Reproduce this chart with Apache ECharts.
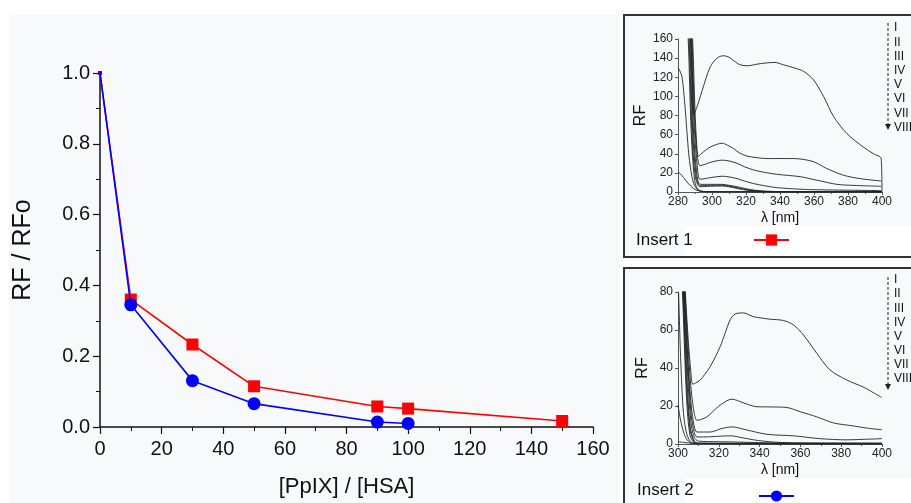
<!DOCTYPE html>
<html>
<head>
<meta charset="utf-8">
<script src="https://cdn.jsdelivr.net/npm/echarts@6/dist/echarts.min.js"></script>
<style>
  html, body { margin: 0; padding: 0; background: #ffffff; }
  #main { width: 911px; height: 503px; }
</style>
</head>
<body>
<div id="main"></div>
<script>
/************************************************************************************/
// data: main plot, RF / RFo against [PpIX] / [HSA]
/************************************************************************************/
var ratio = [0, 10, 30, 50, 90, 100, 150];
var insert1Values = [1.0, 0.36, 0.233, 0.115, 0.058, 0.052, 0.017];
var ratioBlue = [0, 10, 30, 50, 90, 100];
var insert2Values = [1.0, 0.345, 0.131, 0.066, 0.014, 0.010];

var xTicks = [0, 20, 40, 60, 80, 100, 120, 140, 160];
var yTicks = [0.0, 0.2, 0.4, 0.6, 0.8, 1.0];
var romans = ['I', 'II', 'III', 'IV', 'V', 'VI', 'VII', 'VIII'];

/************************************************************************************/
// data: insert 1 spectra, [lambda nm, RF]
/************************************************************************************/
var s1_I = [[286.5, 200], [287.6, 160], [288.5, 110], [289.2, 81], [291, 88], [294, 105], [299, 131], [303, 140], [306.8, 142.5], [310, 141], [313, 137], [316.6, 133], [321, 132], [326.5, 133.7], [332, 135], [337, 135.5], [342, 133], [348, 130], [354, 126], [359.8, 117], [365.6, 100], [371.5, 79], [379.4, 61], [389, 47], [395, 40], [399.5, 35], [400, 0]];
var s1_II = [[287.2, 200], [288.6, 160], [290, 85], [291, 50], [292, 37.5], [295, 42], [299, 47], [306, 51], [309, 49], [312.7, 45.5], [316, 41], [320.6, 37.5], [326, 36], [332, 35], [340, 35], [348, 35], [354, 34], [360, 31.5], [367.6, 24.5], [377.4, 17.5], [387, 14], [399.5, 11.5]];
var s1_III = [[286.8, 200], [288.2, 160], [289.8, 75], [291.5, 36], [293, 27.5], [296, 29], [299, 31], [306, 33.3], [310, 32.5], [314.7, 30], [319, 26.5], [324.5, 23], [331, 20.5], [338, 18.5], [345, 17.3], [352, 16], [361.8, 12.3], [373.5, 8], [385, 6.8], [399.5, 6]];
var s1_IV = [[286.3, 200], [287.8, 160], [289.5, 70], [291.5, 24], [293, 13.3], [299, 15], [306, 16.5], [310, 15.8], [314.7, 14], [319, 11.5], [324.5, 8.8], [331, 6.5], [338, 4.6], [348, 3.3], [358, 2.5], [375, 2], [399.5, 1.5]];
var s1_V = [[285.8, 200], [287.3, 160], [289, 68], [291, 20], [293, 8], [299, 8], [306, 8], [310, 7], [314.7, 5.5], [319, 3.8], [324.5, 2], [332, 0.9], [340, 0.4], [400, 0.3]];
var s1_VI = [[285.4, 200], [286.9, 160], [288.6, 66], [290.6, 18], [293, 6.5], [299, 7], [306, 7], [310, 6.2], [314.7, 4.5], [320, 2.5], [326, 1], [335, 0.3], [400, 0.2]];
var s1_VII = [[285, 200], [286.5, 160], [288.2, 64], [290.2, 16], [293, 5.5], [299, 6], [306, 6.3], [310, 5.5], [315, 3.6], [321, 1.8], [328, 0.6], [340, 0.2], [400, 0.2]];
var s1_VIII = [[284.5, 200], [286, 160], [287.8, 62], [289.8, 12], [292, 2], [296, 0.5], [310, 0.2], [400, 0.1]];
var s1_a = [[280, 130], [281, 127], [282.3, 121], [283.3, 106], [284.3, 86], [285.3, 62], [286.3, 40], [287.3, 26], [288.2, 16], [289.2, 9], [290.2, 5], [292, 2], [295, 0.3], [400, 0.1]];
var s1_b = [[280, 21], [281.4, 19], [283.3, 15], [285.3, 10.5], [287.3, 6.5], [289.2, 3.5], [291, 1.8], [293, 1], [297, 0.3], [400, 0.1]];

/************************************************************************************/
// data: insert 2 spectra, [lambda nm, RF]
/************************************************************************************/
var s2_I = [[302.8, 100], [303.6, 80], [305, 55], [306.3, 38], [307.2, 31.5], [308.5, 32], [310.9, 33.7], [313, 36.5], [315.8, 40.7], [320.7, 51.3], [323, 58], [325.6, 65.4], [328, 68.4], [332, 69], [337, 67], [341, 66.3], [345, 65.7], [351.7, 65], [356.6, 62.7], [361.5, 57.4], [368, 47.8], [374.5, 39], [382.7, 33.7], [390.8, 30], [395, 27.5], [399.8, 24.5]];
var s2_II = [[302.6, 100], [303.4, 80], [305, 50], [306.5, 28], [308, 16], [309.3, 12.5], [311.5, 13], [314.2, 14.3], [317, 17], [320.7, 20.5], [326.4, 23.6], [332, 21.7], [338.7, 19.6], [346, 19.5], [353.4, 19.2], [359.9, 17], [368, 14.3], [376.2, 11.1], [386, 9.5], [393, 8.3], [400, 7.5]];
var s2_III = [[302.4, 100], [303.2, 80], [305, 42], [306.5, 20], [308, 9], [309.3, 6.3], [315.8, 6.3], [321, 8], [326.4, 9], [333.6, 7.4], [343.6, 5.1], [356.6, 4.3], [369.7, 2.8], [382.7, 2.2], [392, 2.5], [400, 2.8]];
var s2_IV = [[302.2, 100], [303, 80], [305, 38], [306.5, 15], [308, 6], [309.3, 3.7], [316, 3.8], [322, 4.2], [326, 4.3], [331, 3.4], [337, 2.2], [342, 1.5], [348.5, 0.9], [360, 0.5], [400, 0.4]];
var s2_V = [[302, 100], [302.8, 80], [304.8, 35], [306.3, 12], [308, 3.5], [310, 1.5], [320, 1.2], [330, 1], [340, 0.7], [350, 0.5], [400, 0.4]];
var s2_VI = [[301.8, 100], [302.6, 80], [304.6, 30], [306, 9], [308, 1.5], [310, 0.5], [400, 0.3]];
var s2_VII = [[301.6, 100], [302.4, 80], [304.4, 27], [306, 7], [308, 1], [310, 0.3], [400, 0.2]];
var s2_VIII = [[301.4, 100], [302.2, 80], [304.2, 24], [305.8, 5], [308, 0.5], [310, 0.2], [400, 0.1]];
var s2_a = [[300.3, 79.5], [300.7, 65], [301.1, 51], [301.9, 30], [302.7, 16], [303.9, 7], [305.2, 2.8], [307.3, 0.3], [400, 0.1]];
var s2_b = [[300, 20.5], [301, 14], [302, 9], [303.2, 4.8], [304.4, 2.3], [306, 0.8], [308, 0.2], [400, 0.1]];
var s2_c = [[300, 1.2], [303, 0.8], [308, 0.3], [400, 0.1]];

var spectra1 = [s1_I, s1_II, s1_III, s1_IV, s1_V, s1_VI, s1_VII, s1_VIII, s1_a, s1_b];
var spectra2 = [s2_I, s2_II, s2_III, s2_IV, s2_V, s2_VI, s2_VII, s2_VIII, s2_a, s2_b, s2_c];

/************************************************************************************/
// helpers
/************************************************************************************/
var FONT = 'Liberation Sans, Arial, sans-serif';
var pair = function (xs, ys) {
    var out = [];
    for (var i = 0; i < ys.length; i++) out.push([xs[i], ys[i]]);
    return out;
};

var insetX = function (idx, min, max) {
    return {
        type: 'value', gridIndex: idx, min: min, max: max, interval: 20,
        name: 'λ [nm]', nameLocation: 'middle', nameGap: 19,
        nameTextStyle: { fontFamily: FONT, fontSize: 14, color: '#111' },
        axisLine: { lineStyle: { color: '#555', width: 1 } },
        axisTick: { length: 3, lineStyle: { color: '#555' } },
        minorTick: { show: true, splitNumber: 2, length: 2, lineStyle: { color: '#555' } },
        axisLabel: { fontFamily: FONT, fontSize: 12, color: '#222', margin: 4 },
        splitLine: { show: false }
    };
};
var insetY = function (idx, max) {
    return {
        type: 'value', gridIndex: idx, min: 0, max: max, interval: 20,
        name: 'RF', nameLocation: 'middle', nameGap: 27, nameRotate: 90,
        nameTextStyle: { fontFamily: FONT, fontSize: 16, color: '#111' },
        axisLine: { show: true, lineStyle: { color: '#555', width: 1 } },
        axisTick: { show: true, length: 3, lineStyle: { color: '#555' } },
        axisLabel: { fontFamily: FONT, fontSize: 12, color: '#222', margin: 5 },
        splitLine: { show: false }
    };
};

var series = [
    {
        name: 'Insert 1', type: 'line', xAxisIndex: 0, yAxisIndex: 0,
        data: pair(ratio, insert1Values), symbol: 'rect',
        symbolSize: function (v, p) { return p.dataIndex === 0 ? 4 : 12; },
        color: '#ff0000', lineStyle: { color: '#ff0000', width: 1.6 }, z: 3
    },
    {
        name: 'Insert 2', type: 'line', xAxisIndex: 0, yAxisIndex: 0,
        data: pair(ratioBlue, insert2Values), symbol: 'circle',
        symbolSize: function (v, p) { return p.dataIndex === 0 ? 4 : 13; },
        color: '#0000ff', lineStyle: { color: '#0000ff', width: 1.6 }, z: 4
    }
];
for (var i = 0; i < spectra1.length; i++) {
    series.push({ type: 'line', xAxisIndex: 1, yAxisIndex: 1, data: spectra1[i], showSymbol: false, smooth: 0.3,
        lineStyle: { color: '#222', width: 0.9 }, silent: true, clip: true });
}
for (var j = 0; j < spectra2.length; j++) {
    series.push({ type: 'line', xAxisIndex: 2, yAxisIndex: 2, data: spectra2[j], showSymbol: false, smooth: 0.3,
        lineStyle: { color: '#222', width: 0.9 }, silent: true, clip: true });
}

// roman numeral labels + dashed arrow of each insert
var arrowGraphics = function (x, y0, y1, ly0, step) {
    var els = [
        { type: 'line', shape: { x1: x, y1: y0, x2: x, y2: y1 - 5 }, style: { stroke: '#222', lineWidth: 1, lineDash: [3, 2] } },
        { type: 'polygon', shape: { points: [[x - 3, y1 - 6], [x + 3, y1 - 6], [x, y1]] }, style: { fill: '#222' } }
    ];
    for (var k = 0; k < romans.length; k++) {
        els.push({ type: 'text', x: x + 6, y: ly0 + k * step,
            style: { text: romans[k], font: '12px ' + FONT, fill: '#111', textVerticalAlign: 'middle' } });
    }
    return els;
};

var graphics = [
    { type: 'rect', z: -10, shape: { x: 9, y: 15, width: 611, height: 488 }, style: { fill: '#f8f9fa' } },
    { type: 'rect', z: -10, shape: { x: 624, y: 15, width: 300, height: 242 }, style: { fill: '#f8f9fa', stroke: '#333', lineWidth: 2 } },
    { type: 'rect', z: -9, shape: { x: 685, y: 226, width: 226, height: 30 }, style: { fill: '#ffffff' } },
    { type: 'rect', z: -10, shape: { x: 624, y: 268, width: 300, height: 250 }, style: { fill: '#f8f9fa', stroke: '#333', lineWidth: 2 } },
    { type: 'rect', z: -9, shape: { x: 685, y: 478, width: 226, height: 25 }, style: { fill: '#ffffff' } },
    { type: 'text', x: 636, y: 240, style: { text: 'Insert 1', font: '17px ' + FONT, fill: '#111', textVerticalAlign: 'middle' } },
    { type: 'text', x: 637, y: 490, style: { text: 'Insert 2', font: '17px ' + FONT, fill: '#111', textVerticalAlign: 'middle' } }
].concat(arrowGraphics(888, 23, 130, 28, 14.2)).concat(arrowGraphics(888, 277, 390, 280, 14.1));

/************************************************************************************/
// chart
/************************************************************************************/
var myChart = echarts.init(document.getElementById('main'));
var option = {
    animation: false,
    backgroundColor: '#ffffff',
    grid: [
        { left: 100, right: 318, top: 73, bottom: 75 },
        { left: 678, right: 29, top: 39, bottom: 311 },
        { left: 678, right: 29, top: 292, bottom: 59 }
    ],
    legend: [
        { data: ['Insert 1'], left: 748, top: 228, itemWidth: 35, itemHeight: 14, formatter: function () { return ''; }, selectedMode: false },
        { data: ['Insert 2'], left: 753, top: 484, itemWidth: 35, itemHeight: 14, formatter: function () { return ''; }, selectedMode: false }
    ],
    xAxis: [
        {
            type: 'value', gridIndex: 0, min: 0, max: 160, interval: 20,
            name: '[PpIX] / [HSA]', nameLocation: 'middle', nameGap: 49,
            nameTextStyle: { fontFamily: FONT, fontSize: 22, color: '#111' },
            axisLine: { lineStyle: { color: '#111', width: 1.5 } },
            axisTick: { length: 7, lineStyle: { color: '#111', width: 1.2 } },
            minorTick: { show: true, splitNumber: 2, length: 4, lineStyle: { color: '#111' } },
            axisLabel: { fontFamily: FONT, fontSize: 20, color: '#111', margin: 12 },
            splitLine: { show: false }
        },
        insetX(1, 280, 400),
        insetX(2, 300, 400)
    ],
    yAxis: [
        {
            type: 'value', gridIndex: 0, min: 0, max: 1.0, interval: 0.2,
            name: 'RF / RFo', nameLocation: 'middle', nameGap: 64, nameRotate: 90,
            nameTextStyle: { fontFamily: FONT, fontSize: 25, color: '#111' },
            axisLine: { show: true, lineStyle: { color: '#111', width: 1.5 } },
            axisTick: { show: true, length: 7, lineStyle: { color: '#111', width: 1.2 } },
            minorTick: { show: true, splitNumber: 2, length: 4, lineStyle: { color: '#111' } },
            axisLabel: { fontFamily: FONT, fontSize: 20, color: '#111', margin: 10,
                formatter: function (v) { return v.toFixed(1); } },
            splitLine: { show: false }
        },
        insetY(1, 160),
        insetY(2, 80)
    ],
    graphic: graphics,
    series: series
};
myChart.setOption(option);
</script>
</body>
</html>
